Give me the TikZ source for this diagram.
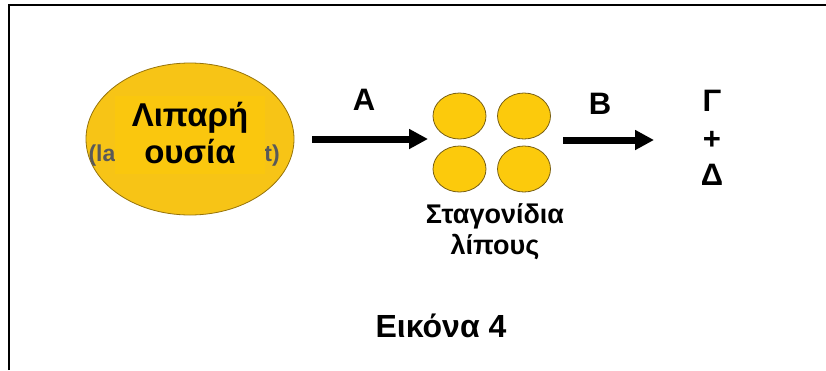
\documentclass[tikz,border=0pt]{standalone}
\usepackage{fontspec}
\setmainfont{Liberation Sans}
\usetikzlibrary{arrows.meta,shapes.geometric}
\definecolor{fatgold}{RGB}{247,196,22}
\definecolor{fatin}{RGB}{250,199,14}
\definecolor{fatedge}{RGB}{150,115,10}
\definecolor{dropfill}{RGB}{252,202,12}
\definecolor{dropedge}{RGB}{120,95,20}
\tikzset{
  lbl/.style={font=\bfseries\fontsize{31}{33}\selectfont, inner sep=0pt},
  drop/.style={ellipse, draw=dropedge, line width=0.8pt, fill=dropfill, minimum width=53pt, minimum height=46pt, inner sep=0pt},
  fatarrow/.style={line width=7pt, -{Triangle[length=19pt,width=19pt]}},
  faded/.style={font=\bfseries\fontsize{23}{25}\selectfont, text=black!65, inner sep=0pt},
}
\begin{document}
\begin{tikzpicture}[x=1pt,y=-1pt]
\useasboundingbox (0,0) rectangle (826,370);
% frame
\draw[line width=2pt] (8.5,370) -- (8.5,4.5) -- (826,4.5);
% big fat blob
\node[ellipse, draw=fatedge, line width=0.8pt, fill=fatgold, minimum width=208pt, minimum height=152pt, inner sep=0pt] (fat) at (190,139) {};
\node[faded] (la) at (102,156) {(la};
\node[faded] (tt) at (272,156) {t)};
\node[fill=fatin, minimum width=150pt, minimum height=78pt, inner sep=0pt] (fatbox) at (190,135) {};
\node[font=\bfseries\fontsize{33}{37}\selectfont, align=center, inner sep=0pt] (fattxt) at (190,133) {Λιπαρή\\ουσία};
% droplets
\node[drop] (d1) at (459.5,116) {};
\node[drop] (d2) at (524,116) {};
\node[drop] (d3) at (459.5,169) {};
\node[drop] (d4) at (524,169) {};
% arrows
\coordinate (aS) at (312,139);
\coordinate (aE) at (428,139);
\coordinate (bS) at (563,140);
\coordinate (bE) at (654,140);
\draw[fatarrow] (aS) -- (aE);
\draw[fatarrow] (bS) -- (bE);
\node[lbl] (A) at (364,100) {Α};
\node[lbl] (B) at (600,104) {Β};
% products
\node[lbl] (G) at (712,101) {Γ};
\node[lbl] (P) at (712,140) {+};
\node[lbl] (D) at (712,175) {Δ};
% captions
\node[font=\bfseries\fontsize{27}{31}\selectfont, align=center, inner sep=0pt] (drops) at (495,232) {Σταγονίδια\\λίπους};
\node[font=\bfseries\fontsize{32}{34}\selectfont, inner sep=0pt] (fig) at (441,326) {Εικόνα 4};
\end{tikzpicture}
\end{document}
